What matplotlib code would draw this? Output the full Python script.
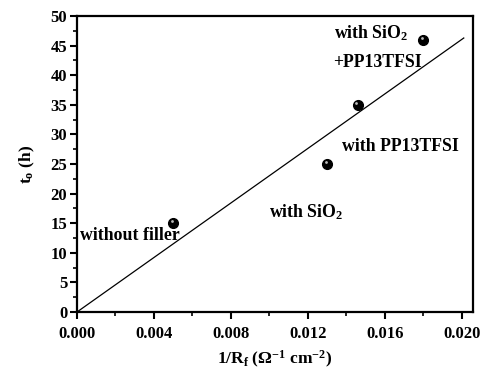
import numpy as np
import matplotlib
matplotlib.use("Agg")
import matplotlib.pyplot as plt
from matplotlib.ticker import MultipleLocator, FormatStrFormatter

# Data
inv_rf = [0.0050, 0.0130, 0.0146, 0.0180]
t0 = [15.0, 25.0, 35.0, 46.0]
labels = ["without filler", r"with SiO$_\mathbf{2}$", "with PP13TFSI", r"with SiO$_\mathbf{2}$", "+PP13TFSI"]
fit_x = [0.0, 0.0201]
fit_slope = 2303.0

plt.rcParams['font.family'] = ['Liberation Serif', 'DejaVu Serif']
plt.rcParams['font.weight'] = 'bold'
plt.rcParams['mathtext.fontset'] = 'custom'
plt.rcParams['mathtext.rm'] = 'Liberation Serif:bold'
plt.rcParams['mathtext.it'] = 'Liberation Serif:bold'
plt.rcParams['mathtext.bf'] = 'Liberation Serif:bold'

fig = plt.figure(figsize=(4.92, 3.73), dpi=100)
ax = fig.add_axes([0.1565, 0.1635, 0.8045, 0.7935])

fx = np.array(fit_x)
ax.plot(fx, fit_slope * fx, color='black', lw=0.9)
ax.plot(inv_rf, t0, 'o', color='black', ms=7, zorder=3)
ax.plot(np.array(inv_rf) - 0.00008, np.array(t0) + 0.35, 'o', color='#bbbbbb', ms=2, zorder=4, mec='none')

ax.set_xlim(0, 0.02057)
ax.set_ylim(0, 50)
ax.xaxis.set_major_locator(MultipleLocator(0.004))
ax.xaxis.set_minor_locator(MultipleLocator(0.002))
ax.yaxis.set_major_locator(MultipleLocator(5))
ax.yaxis.set_minor_locator(MultipleLocator(2.5))
ax.xaxis.set_major_formatter(FormatStrFormatter('%.3f'))
ax.tick_params(which='major', direction='out', length=5, width=1.5, labelsize=12)
ax.tick_params(axis='x', which='major', pad=5)
ax.tick_params(axis='y', which='major', pad=2)
ax.tick_params(which='minor', direction='out', length=3, width=1.2)
for s in ax.spines.values():
    s.set_linewidth(1.6)
for lab in ax.get_xticklabels() + ax.get_yticklabels():
    lab.set_fontweight('bold')

ax.set_xlabel(r"1/R$_\mathrm{f}$ ($\Omega^{-1}$ cm$^{-2}$)", fontsize=12.5, fontweight='bold', labelpad=5)
ax.set_ylabel(r"t$_\mathrm{o}$ (h)", fontsize=12.5, fontweight='bold', labelpad=10)

tkw = dict(fontsize=12.8, fontweight='bold')
ax.text(0.00015, 13.0, labels[0], ha='left', va='center', **tkw)
ax.text(0.00998, 16.8, labels[1], ha='left', va='center', **tkw)
ax.text(0.01378, 28.0, labels[2], ha='left', va='center', **tkw)
ax.text(0.01338, 47.1, labels[3], ha='left', va='center', **tkw)
ax.text(0.01330, 42.2, labels[4], ha='left', va='center', **tkw)

fig.savefig("out.png", dpi=100)
